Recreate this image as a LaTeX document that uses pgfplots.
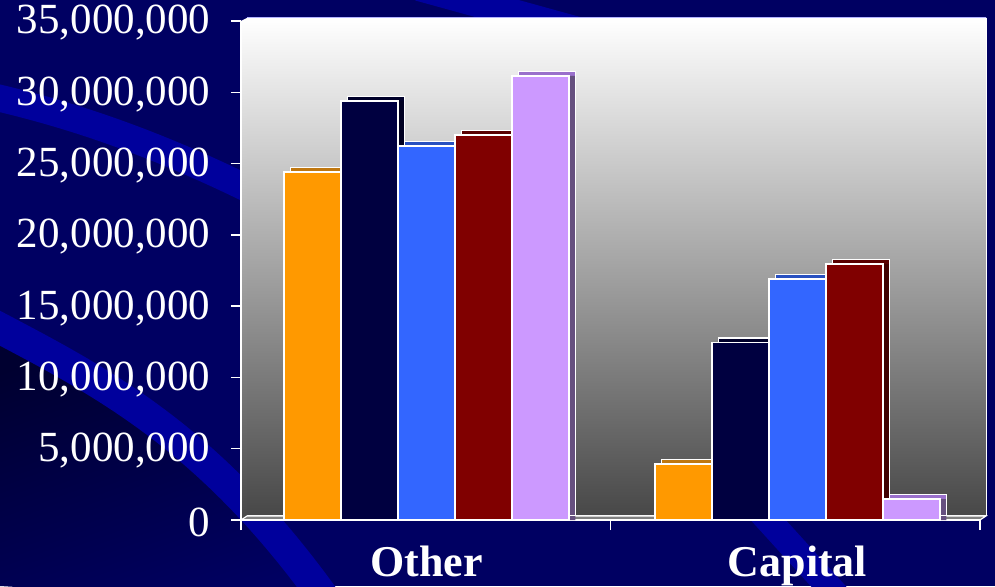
\documentclass[border=0pt]{standalone}
\usepackage{pgfplots}
\pgfplotsset{compat=1.18}
\usepackage{pgfplotstable}
\usepackage{fontspec}
\setmainfont{Liberation Serif}
\definecolor{bg}{HTML}{000062}
\definecolor{band}{HTML}{00009C}
\definecolor{darkc}{HTML}{000030}
\definecolor{cOr}{HTML}{FF9900}\definecolor{tOr}{HTML}{C07810}\definecolor{sOr}{HTML}{A06000}
\definecolor{cNv}{HTML}{000040}\definecolor{tNv}{HTML}{00002A}\definecolor{sNv}{HTML}{000022}
\definecolor{cBl}{HTML}{3366FF}\definecolor{tBl}{HTML}{2850C0}\definecolor{sBl}{HTML}{1F40A0}
\definecolor{cRd}{HTML}{800000}\definecolor{tRd}{HTML}{5A0000}\definecolor{sRd}{HTML}{420000}
\definecolor{cLv}{HTML}{CC99FF}\definecolor{tLv}{HTML}{9A70CC}\definecolor{sLv}{HTML}{66507F}

\pgfplotstableread{
x s1 s2 s3 s4 s5
0.502 24400000 29400000 26250000 27000000 31150000
1.506 3930000 12440000 16900000 17950000 1470000
}\data

\pgfplotsset{
  topL/.style 2 args={ybar, bar width=57pt, bar shift=#1, fill=#2, draw=none, xshift=6.5pt, yshift=4.5pt, forget plot},
  sideL/.style 2 args={ybar, bar width=57pt, bar shift=#1, fill=#2, draw=none, xshift=6.5pt, forget plot},
  lineL/.style={ybar, bar width=57pt, bar shift=#1, fill=none, draw=white, line width=1.4pt, xshift=6.5pt, yshift=4.5pt, forget plot},
  frontL/.style 2 args={ybar, bar width=57pt, bar shift=#1, fill=#2, draw=white, line width=1.6pt},
}

\begin{document}
\begin{tikzpicture}
\useasboundingbox (0,0) rectangle (995pt,586pt);
\fill[bg] (0,0) rectangle (995pt,586pt);
% darker lower-left corner
\shade[top color=darkc, bottom color=bg, shading angle=20] (0,0) -- (0,258pt) .. controls (100pt,205pt) and (210pt,150pt) .. (330pt,-20pt) -- cycle;
% swooshes
\draw[band, line width=31pt] (-10pt,263pt) .. controls (100pt,205pt) and (210pt,150pt) .. (330pt,-20pt);
\draw[band, line width=27pt] (-10pt,490pt) .. controls (100pt,465pt) and (200pt,425pt) .. (320pt,360pt);
\draw[band, line width=28pt] (419pt,599pt) -- (600pt,549pt);
\draw[band, line width=26pt] (700pt,141pt) -- (860pt,-35pt);
% back wall
\shade[top color=white, bottom color=black!72] (247pt,70pt) rectangle (986pt,568pt);
\draw[white, line width=1pt] (247pt,70pt) -- (986pt,70pt) -- (986pt,568pt);
\draw[blue!30!white, line width=1pt] (247pt,568pt) -- (986pt,568pt);
% side wall
\shade[top color=white, bottom color=black!72] (241pt,66pt) -- (247pt,70pt) -- (247pt,568pt) -- (241pt,565pt) -- cycle;
% floor
\fill[black!50] (241pt,66pt) -- (980pt,66pt) -- (986pt,70pt) -- (247pt,70pt) -- cycle;
\draw[white, line width=1.2pt] (241pt,66pt) -- (980pt,66pt) -- (986pt,70pt) -- (247pt,70pt) -- cycle;

\begin{axis}[
  at={(241pt,66pt)}, anchor=south west, scale only axis,
  width=739pt, height=499pt,
  xmin=0, xmax=2, ymin=0, ymax=35000000,
  axis x line*=bottom, axis y line*=left,
  axis line style={white, line width=2pt},
  every tick/.style={white, line width=1.5pt},
  tick align=outside,
  major tick length=10pt,
  ytick={0,5000000,10000000,15000000,20000000,25000000,30000000,35000000},
  xtick={0,1,2}, xticklabels={},
  extra x ticks={0.502,1.506},
  extra x tick labels={Other,Capital},
  extra x tick style={major tick length=0pt, xticklabel style={font=\bfseries\fontsize{44}{44}\selectfont, text=white, anchor=base, yshift=-56pt}},
  scaled y ticks=false,
  yticklabel style={font=\fontsize{43}{43}\selectfont, text=white, xshift=-17pt, yshift=-2pt, /pgf/number format/assume math mode=true, /pgf/number format/fixed, /pgf/number format/1000 sep={,}},
  clip=false,
]
\addplot[topL={-114pt}{tOr}] table[x=x,y=s1]{\data};
\addplot[topL={-57pt}{tNv}] table[x=x,y=s2]{\data};
\addplot[topL={0pt}{tBl}] table[x=x,y=s3]{\data};
\addplot[topL={57pt}{tRd}] table[x=x,y=s4]{\data};
\addplot[topL={114pt}{tLv}] table[x=x,y=s5]{\data};
\addplot[sideL={-114pt}{sOr}] table[x=x,y=s1]{\data};
\addplot[sideL={-57pt}{sNv}] table[x=x,y=s2]{\data};
\addplot[sideL={0pt}{sBl}] table[x=x,y=s3]{\data};
\addplot[sideL={57pt}{sRd}] table[x=x,y=s4]{\data};
\addplot[sideL={114pt}{sLv}] table[x=x,y=s5]{\data};
\addplot[lineL={-114pt}] table[x=x,y=s1]{\data};
\addplot[lineL={-57pt}] table[x=x,y=s2]{\data};
\addplot[lineL={0pt}] table[x=x,y=s3]{\data};
\addplot[lineL={57pt}] table[x=x,y=s4]{\data};
\addplot[lineL={114pt}] table[x=x,y=s5]{\data};
\addplot[frontL={-114pt}{cOr}] table[x=x,y=s1]{\data};
\addplot[frontL={-57pt}{cNv}] table[x=x,y=s2]{\data};
\addplot[frontL={0pt}{cBl}] table[x=x,y=s3]{\data};
\addplot[frontL={57pt}{cRd}] table[x=x,y=s4]{\data};
\addplot[frontL={114pt}{cLv}] table[x=x,y=s5]{\data};
\end{axis}
\end{tikzpicture}
\end{document}
